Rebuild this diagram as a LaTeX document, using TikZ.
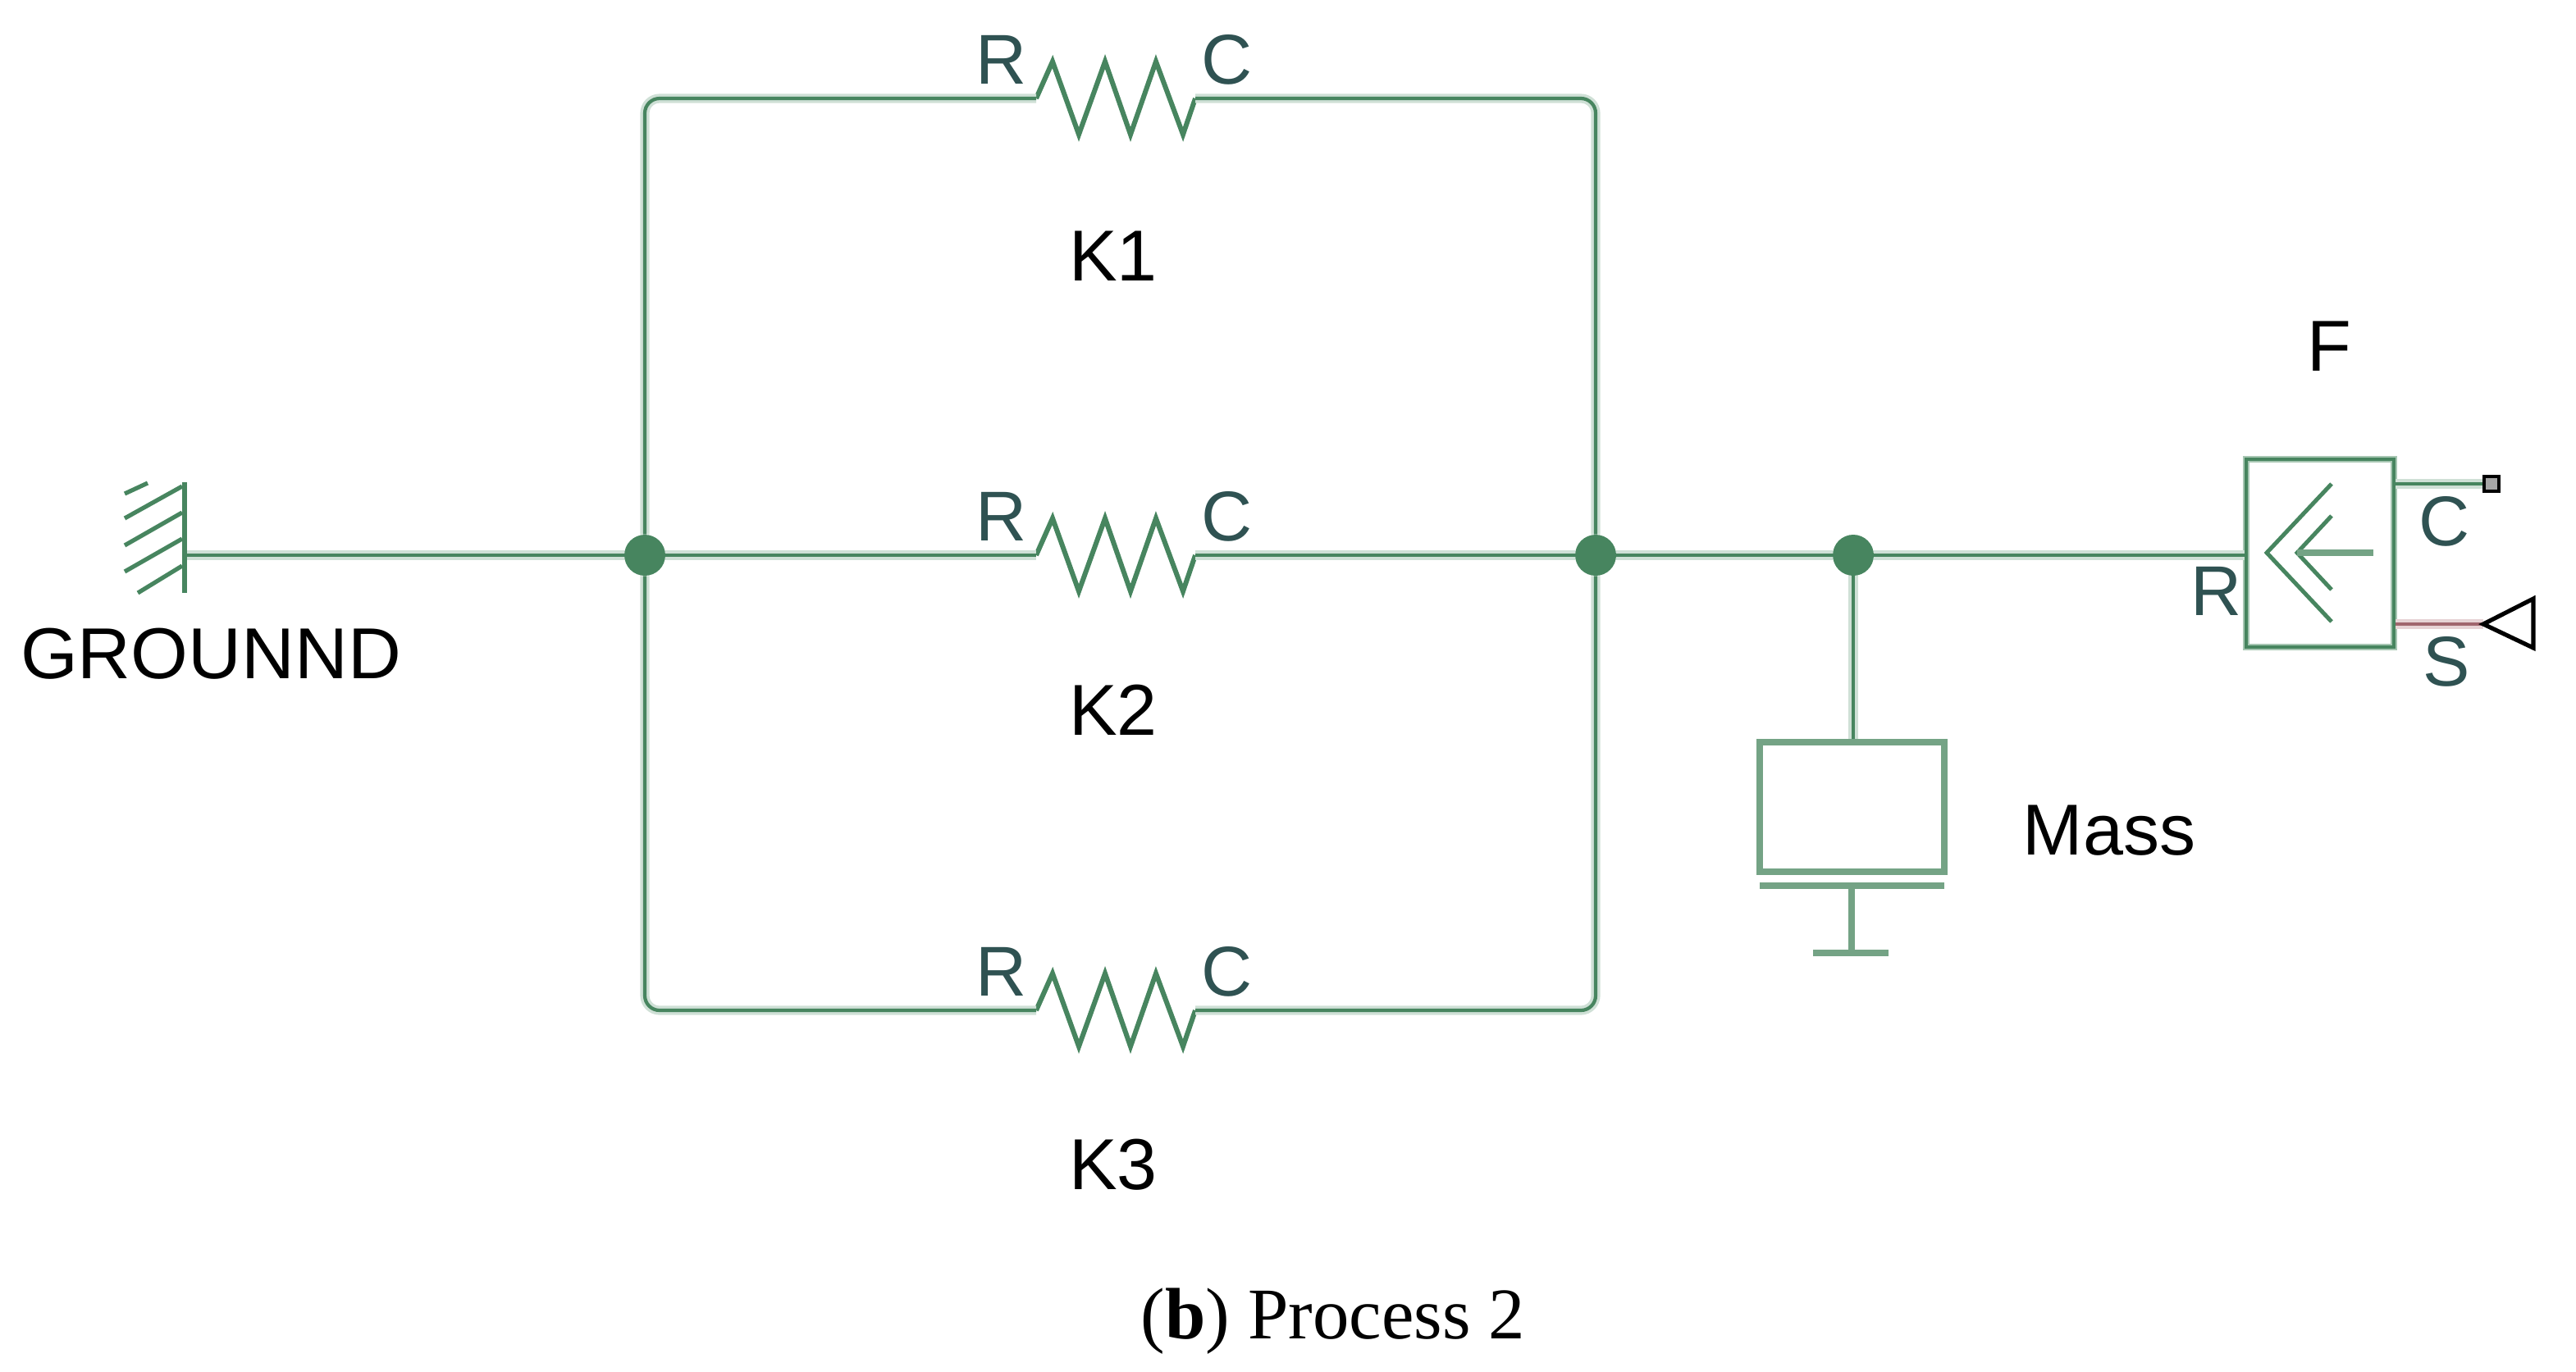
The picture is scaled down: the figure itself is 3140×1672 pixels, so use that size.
\documentclass[tikz,border=0pt]{standalone}
\usepackage{fontspec}
\setmainfont{Liberation Sans}
\newfontfamily\capfont{Liberation Serif}
\definecolor{wire}{HTML}{47855F}
\definecolor{wirelt}{HTML}{74A385}
\definecolor{halo}{HTML}{CFE0D6}
\definecolor{boxhalo}{HTML}{A6C6B2}
\definecolor{port}{HTML}{2F5252}
\definecolor{sline}{HTML}{A0666E}
\definecolor{shalo}{HTML}{E6D3D5}
\tikzset{
  wirestyle/.style={draw=wire,line width=2.1pt,preaction={draw=halo,line width=5.6pt}},
  zigstyle/.style={draw=wire,line width=3pt,line join=miter,miter limit=10},
  hatchstyle/.style={draw=wire,line width=2.6pt},
  thick wire/.style={draw=wirelt,line width=4pt},
  junction/.style={circle,fill=wire,draw=none,minimum size=25pt,inner sep=0pt},
  porttext/.style={text=port,font=\fontsize{43}{46}\selectfont,anchor=base,inner sep=0pt},
  nametext/.style={text=black,font=\fontsize{44}{48}\selectfont,anchor=base,inner sep=0pt},
}
\newcommand{\zigzag}[2]{%
  \coordinate (#1L) at (1263,#2);
  \coordinate (#1R) at (1457,#2);
  \draw[zigstyle] (#1L)
    -- (1283,#2-45) -- (1315,#2+44) -- (1347,#2-45) -- (1378,#2+44)
    -- (1409,#2-45) -- (1442,#2+44) -- (#1R);
  \node[porttext] (#1p) at (1221,#2-18) {R};
  \node[porttext] (#1q) at (1496,#2-18) {C};
}
\begin{document}
\begin{tikzpicture}[x=0.5pt,y=-0.5pt]
\useasboundingbox (0,0) rectangle (3140,1672);
% junctions
\node[junction] (jl) at (786,677) {};
\node[junction] (jr) at (1945,677) {};
\node[junction] (jm) at (2259,677) {};
% resistors
\zigzag{ka}{120}
\zigzag{kb}{677}
\zigzag{kc}{1232}
\node[nametext] (tka) at (1357,342) {K1};
\node[nametext] (tkb) at (1357,896) {K2};
\node[nametext] (tkc) at (1357,1450) {K3};
% wires
\coordinate (gnd) at (225,677);
\draw[wirestyle] (gnd) -- (jl);
\draw[wirestyle] (jl) -- (kbL);
\draw[wirestyle] (kbR) -- (jr);
\draw[wirestyle] (jr) -- (jm);
\draw[wirestyle,rounded corners=9pt] (jl) |- (kaL);
\draw[wirestyle,rounded corners=9pt] (jl) |- (kcL);
\draw[wirestyle,rounded corners=9pt] (jr) |- (kaR);
\draw[wirestyle,rounded corners=9pt] (jr) |- (kcR);
% ground
\draw[draw=wire,line width=3.4pt] (225,588) -- (225,723);
\draw[hatchstyle] (222,593) -- (152,632);
\draw[hatchstyle] (222,625) -- (152,665);
\draw[hatchstyle] (222,657) -- (152,697);
\draw[hatchstyle] (222,690) -- (168,723);
\draw[hatchstyle] (180,589) -- (152,602);
\node[nametext,xscale=1.02] (tg) at (257,827) {GROUNND};
% mass
\node[draw=wirelt,line width=4pt,fill=none,minimum width=112.5pt,minimum height=79pt,inner sep=0pt] (mass) at (2257.5,984) {};
\draw[wirestyle] (jm) -- (jm |- mass.north);
\coordinate (plateL) at (2145,1080);
\coordinate (plateR) at (2370,1080);
\coordinate (plateM) at (2257,1080);
\coordinate (footM) at (2257,1162);
\draw[thick wire] (plateL) -- (plateR);
\draw[thick wire] (plateM) -- (footM);
\draw[thick wire] (2210,1162) -- (2302,1162);
\node[nametext] (tm) at (2571,1042) {Mass};
% sensor
\node[draw=wire,line width=2.1pt,preaction={draw=boxhalo,line width=4.4pt},minimum width=90pt,minimum height=114.5pt,inner sep=0pt] (fbox) at (2828,674.5) {};
\draw[wirestyle] (jm) -- (fbox.west |- jm);
\draw[draw=wire,line width=2.5pt] (2842,590) -- (2763,674) -- (2842,758);
\draw[draw=wire,line width=2.5pt] (2842,629) -- (2800,674) -- (2842,719);
\draw[draw=wirelt,line width=4pt] (2800,674) -- (2893,674);
\node[draw=black,fill=black!35,line width=2.2pt,minimum size=9pt,inner sep=0pt] (csq) at (3037,590) {};
\draw[wirestyle] (fbox.east |- csq) -- (csq);
\coordinate (tipS) at (3027,761);
\draw[draw=sline,line width=2.1pt,preaction={draw=shalo,line width=5.6pt}] (fbox.east |- tipS) -- (tipS);
\draw[black,line width=2.6pt,line join=miter] (tipS) -- (3088,730) -- (3088,790) -- cycle;
\node[nametext] (tf) at (2839,452) {F};
\node[porttext] (tc) at (2980,665) {C};
\node[porttext] (ts) at (2982,836) {S};
\node[porttext] (tr) at (2702,750) {R};
% caption
\node[anchor=base,inner sep=0pt,font=\capfont\fontsize{44.4}{48}\selectfont] (cap) at (1625,1632) {(\textbf{b}) Process 2};
\end{tikzpicture}
\end{document}
